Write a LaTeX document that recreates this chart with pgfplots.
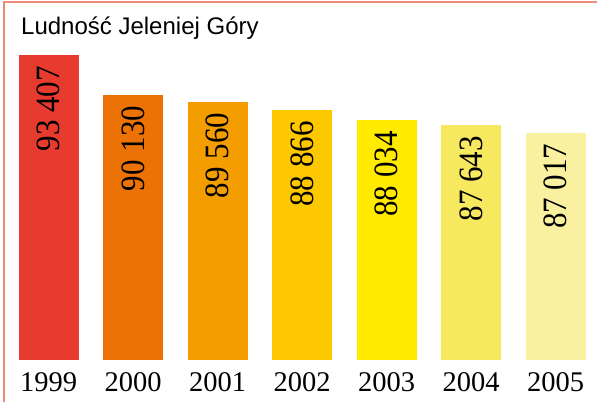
\documentclass[border=0pt]{standalone}
\usepackage{pgfplots}
\pgfplotsset{compat=1.18}
\usepackage{fontspec}
\setmainfont{Liberation Serif}
\newfontfamily\titlefont{Liberation Sans}
\definecolor{c1}{RGB}{230,59,46}
\definecolor{c2}{RGB}{237,114,6}
\definecolor{c3}{RGB}{244,157,0}
\definecolor{c4}{RGB}{254,200,0}
\definecolor{c5}{RGB}{255,234,0}
\definecolor{c6}{RGB}{246,233,96}
\definecolor{c7}{RGB}{249,240,160}
\definecolor{framecol}{RGB}{236,140,120}
\begin{document}
\begin{tikzpicture}[x=1bp,y=1bp]
\path[use as bounding box] (0,0) rectangle (597,402);
\draw[framecol, line width=1.3bp] (4,0) -- (4,400) -- (597,400);
\node[anchor=base west, font=\titlefont\fontsize{24bp}{28bp}\selectfont, inner sep=0pt] at (21,368) {Ludność Jeleniej Góry};
\begin{axis}[
  at={(22,35)}, anchor=south west, scale only axis,
  width=567bp, height=316bp,
  xmin=-0.355, xmax=6.355, ymin=68320, ymax=94350,
  axis line style={draw=none}, tick style={draw=none},
  ytick=\empty,
  xtick={0,1,2,3,4,5,6},
  xticklabels={1999,2000,2001,2002,2003,2004,2005},
  xticklabel style={anchor=base, yshift=-28bp, font=\fontsize{28.5bp}{32bp}\selectfont},
  ybar, bar width=60bp, bar shift=0pt,
  point meta=explicit symbolic,
  nodes near coords,
  every node near coord/.append style={rotate=90, yscale=1.1, anchor=east, inner xsep=11bp, inner ysep=0pt, font=\fontsize{31bp}{34bp}\selectfont, text=black},
  clip=false,
]
\addplot[draw=none, fill=c1] coordinates {(0,93407) [93 407]};
\addplot[draw=none, fill=c2] coordinates {(1,90130) [90 130]};
\addplot[draw=none, fill=c3] coordinates {(2,89560) [89 560]};
\addplot[draw=none, fill=c4] coordinates {(3,88866) [88 866]};
\addplot[draw=none, fill=c5] coordinates {(4,88034) [88 034]};
\addplot[draw=none, fill=c6] coordinates {(5,87643) [87 643]};
\addplot[draw=none, fill=c7] coordinates {(6,87017) [87 017]};
\end{axis}
\end{tikzpicture}
\end{document}
